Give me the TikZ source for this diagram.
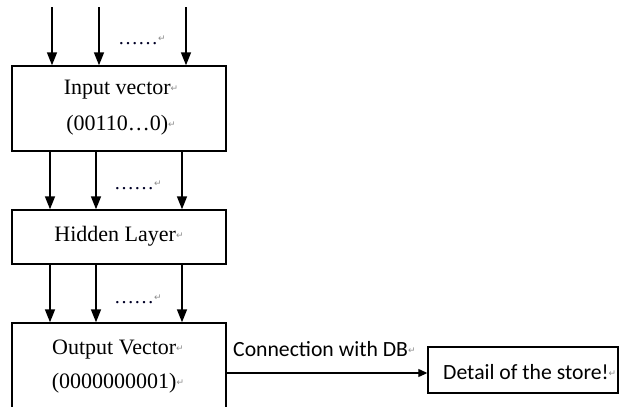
\documentclass[tikz,border=0pt]{standalone}
\usepackage{fontspec}
\setmainfont{Liberation Serif}
\newfontfamily\calfont{Carlito}
\newfontfamily\markfont{DejaVu Sans}
\usetikzlibrary{arrows.meta}
\newcommand{\rmk}{{\color{black!45}\markfont\fontsize{9}{9}\selectfont\raisebox{0.35em}{↵}}}
\tikzset{
  box/.style={draw=black, line width=1.4pt, rectangle, inner sep=0pt},
  arr/.style={line width=1.4pt, -{Triangle[width=10pt,length=13pt]}},
  sarr/.style={line width=1.2pt, -{Triangle[width=8pt,length=9pt]}},
  serif/.style={font=\fontsize{22}{35}\selectfont, inner sep=0pt},
  sans/.style={font=\calfont\fontsize{21.7}{26}\selectfont, inner sep=0pt},
  dots/.style={font=\fontsize{20}{20}\selectfont, inner sep=0pt, text=black!85!blue},
}
\begin{document}
\begin{tikzpicture}[x=1pt,y=-1pt]
\useasboundingbox (0,0) rectangle (619,407);
\begin{scope}
\clip (0,0) rectangle (619,407);
% boxes
\node[box, minimum width=214pt, minimum height=85pt] (inbox) at (119,108.5) {};
\node[box, minimum width=214pt, minimum height=54pt] (hidbox) at (119,237) {};
\node[box, minimum width=214pt, minimum height=97pt] (outbox) at (119,371.5) {};
\node[box, minimum width=190pt, minimum height=46pt] (detail) at (523,370) {};
% texts
\node[serif] (intxt1) at (121,90) {Input vector\rmk};
\node[serif] (intxt2) at (121,125) {(00110\dots 0)\rmk};
\node[serif] (hidtxt) at (119,236) {Hidden Layer\rmk};
\node[serif] (outtxt1) at (118,350) {Output Vector\rmk};
\node[serif] (outtxt2) at (118,383) {(0000000001)\rmk};
\node[sans, anchor=west] (conn) at (233,349) {Connection with DB\rmk};
\node[sans, anchor=west] (dettxt) at (443,372) {Detail of the store!\rmk};
% dots
\node[dots, anchor=west] (d1) at (118,40) {……\rmk};
\node[dots, anchor=west] (d2) at (114,185) {……\rmk};
\node[dots, anchor=west] (d3) at (114,299) {……\rmk};
% input arrows
\coordinate (t1) at (52,7);
\coordinate (t2) at (99,7);
\coordinate (t3) at (186,7);
\foreach \c in {t1,t2,t3} \draw[arr] (\c) -- (\c |- inbox.north);
% hidden arrows
\coordinate (h1) at (50,0);
\coordinate (h2) at (96,0);
\coordinate (h3) at (182,0);
\foreach \c in {h1,h2,h3} {
  \draw[arr] (inbox.south -| \c) -- (hidbox.north -| \c);
  \draw[arr] (hidbox.south -| \c) -- (outbox.north -| \c);
}
% connection
\draw[sarr] (outbox.east |- 0,373) -- (detail.west |- 0,373);
\end{scope}
\end{tikzpicture}
\end{document}
